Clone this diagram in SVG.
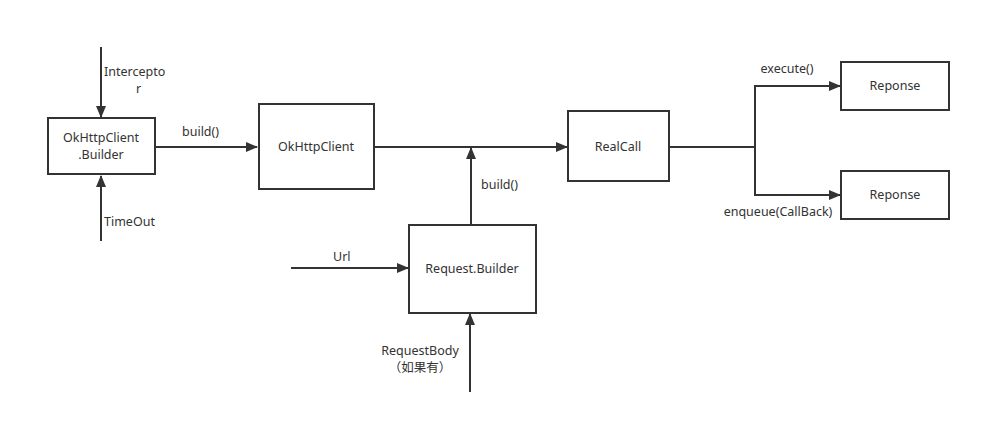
<svg xmlns="http://www.w3.org/2000/svg" width="982" height="424" viewBox="0 0 982 424">
<style>
.box{fill:#fff;stroke:#333;stroke-width:2}
.ln{fill:none;stroke:#333;stroke-width:2}
text{font-family:"Noto Sans","Noto Sans CJK SC",sans-serif;font-size:12.5px;fill:#333}
</style>
<defs>
<marker id="ah" markerWidth="12" markerHeight="10" refX="11" refY="5" orient="auto" markerUnits="userSpaceOnUse">
<path d="M0,0 L12,5 L0,10 Z" fill="#333"/>
</marker>
</defs>
<rect width="982" height="424" fill="#fff"/>
<g id="connectors">
<path class="ln" d="M101,47 V117" marker-end="url(#ah)"/>
<path class="ln" d="M101,241 V176" marker-end="url(#ah)"/>
<path class="ln" d="M155,147 H257" marker-end="url(#ah)"/>
<path class="ln" d="M374,147 H567" marker-end="url(#ah)"/>
<path class="ln" d="M471,225 V148" marker-end="url(#ah)"/>
<path class="ln" d="M291,268 H408" marker-end="url(#ah)"/>
<path class="ln" d="M470,392 V314" marker-end="url(#ah)"/>
<path class="ln" d="M669,147 H755"/>
<path class="ln" d="M755,147 V86 H840" marker-end="url(#ah)"/>
<path class="ln" d="M755,147 V195 H840" marker-end="url(#ah)"/>
<text x="104" y="76">Intercepto</text>
<text x="136" y="93">r</text>
<text x="104" y="226">TimeOut</text>
<text x="182" y="136">build()</text>
<text x="481" y="189">build()</text>
<text x="333" y="261">Url</text>
<text x="420" y="355" text-anchor="middle">RequestBody</text>
<text x="420" y="372" text-anchor="middle">（如果有）</text>
<text x="787" y="73" text-anchor="middle">execute()</text>
<text x="778" y="216" text-anchor="middle">enqueue(CallBack)</text>
</g>
<g id="builder">
<rect class="box" x="48" y="118" width="107" height="56"/>
<text x="101" y="142" text-anchor="middle">OkHttpClient</text>
<text x="101" y="159" text-anchor="middle">.Builder</text>
</g>
<g id="client">
<rect class="box" x="259" y="104" width="115" height="85"/>
<text x="316" y="151" text-anchor="middle">OkHttpClient</text>
</g>
<g id="realcall">
<rect class="box" x="568" y="111" width="101" height="70"/>
<text x="618" y="151" text-anchor="middle">RealCall</text>
</g>
<g id="reqbuilder">
<rect class="box" x="409" y="225" width="127" height="88"/>
<text x="472" y="273" text-anchor="middle">Request.Builder</text>
</g>
<g id="resp1">
<rect class="box" x="841" y="62" width="108" height="48"/>
<text x="895" y="90" text-anchor="middle">Reponse</text>
</g>
<g id="resp2">
<rect class="box" x="841" y="171" width="108" height="48"/>
<text x="895" y="199" text-anchor="middle">Reponse</text>
</g>
</svg>
